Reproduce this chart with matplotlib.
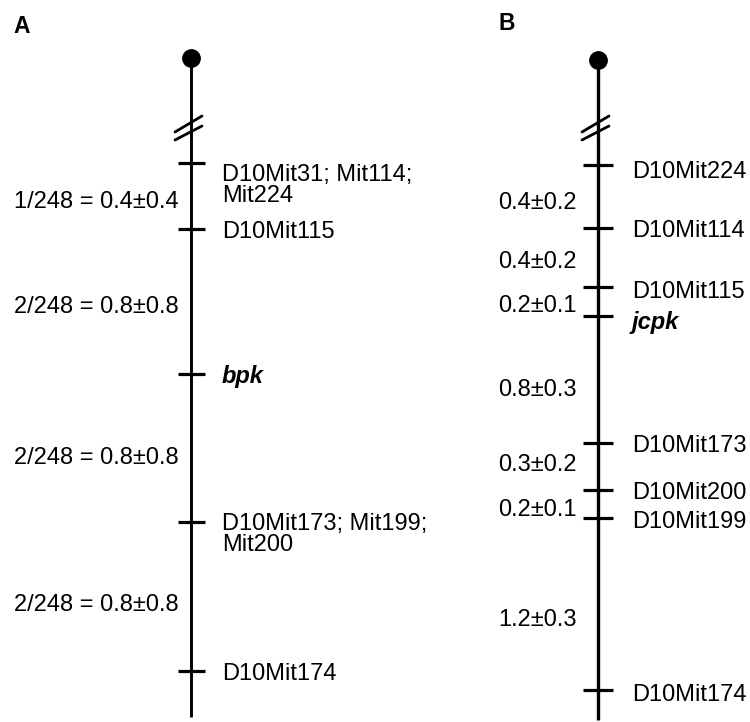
import matplotlib
matplotlib.use("Agg")
import matplotlib.pyplot as plt

plt.rcParams['font.family'] = ['Liberation Sans', 'DejaVu Sans']

# ---------------- data ----------------
# Panel A: markers (top to bottom), map position (cM below first marker, as drawn)
markers_A = ["D10Mit31; Mit114;\nMit224", "D10Mit115", "bpk",
             "D10Mit173; Mit199;\nMit200", "D10Mit174"]
pos_A = [0.0, 0.36, 1.16, 1.97, 2.79]
intervals_A = ["1/248 = 0.4\u00b10.4", "2/248 = 0.8\u00b10.8",
               "2/248 = 0.8\u00b10.8", "2/248 = 0.8\u00b10.8"]

# Panel B
markers_B = ["D10Mit224", "D10Mit114", "D10Mit115", "jcpk",
             "D10Mit173", "D10Mit200", "D10Mit199", "D10Mit174"]
pos_B = [0.0, 0.42, 0.81, 1.00, 1.84, 2.15, 2.34, 3.48]
intervals_B = ["0.4\u00b10.2", "0.4\u00b10.2", "0.2\u00b10.1", "0.8\u00b10.3",
               "0.3\u00b10.2", "0.2\u00b10.1", "1.2\u00b10.3"]

loci = ["bpk", "jcpk"]          # mutant loci, drawn bold italic
panel_letters = ["A", "B"]

# ---------------- layout (pixels) ----------------
W, H = 750, 722
layout = [
    dict(line_x=191, first_px=163, scale=182, dot_y=58, end_y=717, th=13.5,
         label_x=222, int_x=179, mk_nudge=[9, 1, 0, 0, 1], int_nudge=[4, 3, 8, 6],
         letter=(13, 33), lw=2.1),
    dict(line_x=598, first_px=165, scale=151, dot_y=60, end_y=720, th=15,
         label_x=632, int_x=577, mk_nudge=[5, 0, 2, 4, 1, 1, 1, 2],
         int_nudge=[3.5, 2, 2, 8, -3.5, 3.5, 13], letter=(498, 30), lw=2.4),
]
FS = 17
CAP_HALF = 8.5
LINE_SP = 21

fig = plt.figure(figsize=(W / 100, H / 100), dpi=100)
fig.patch.set_facecolor("white")

panels = [(markers_A, pos_A, intervals_A), (markers_B, pos_B, intervals_B)]

for (markers, pos, intervals), L, letter in zip(panels, layout, panel_letters):
    ax = fig.add_axes([0, 0, 1, 1])
    ax.patch.set_alpha(0)
    ax.axis("off")
    s = L["scale"]
    f0 = L["first_px"]

    def cm(px):
        return (px - f0) / s

    ax.set_xlim(0, W)
    ax.set_ylim(cm(H), cm(0))
    x0 = L["line_x"]

    # chromosome line and centromere
    ax.plot([x0, x0], [cm(L["dot_y"]), cm(L["end_y"])], color="black",
            lw=L["lw"], solid_capstyle="butt", zorder=2)
    ax.plot([x0], [cm(L["dot_y"])], "o", color="black", ms=12.5, zorder=3)

    # break mark //
    for yl, yr in [(132, 116), (140, 126)]:
        ax.plot([x0 - 16, x0 + 11], [cm(yl), cm(yr)], color="black",
                lw=2.0, solid_capstyle="round", zorder=3)

    # marker ticks
    ax.hlines(pos, x0 - L["th"], x0 + L["th"], color="black", lw=2.3, zorder=3)

    # marker labels
    for name, p, nd in zip(markers, pos, L["mk_nudge"]):
        is_locus = name in loci
        for i, line in enumerate(name.split("\n")):
            yb = p + (nd + CAP_HALF + i * LINE_SP) / s
            ax.text(L["label_x"], yb, line, fontsize=FS, ha="left", va="baseline",
                    fontweight="bold" if is_locus else "normal",
                    fontstyle="italic" if is_locus else "normal", color="black")

    # interval labels
    for lab, pa, pb, nd in zip(intervals, pos[:-1], pos[1:], L["int_nudge"]):
        yb = (pa + pb) / 2 + (nd + CAP_HALF) / s
        ax.text(L["int_x"], yb, lab, fontsize=FS, ha="right", va="baseline",
                color="black")

    # panel letter
    lx, ly = L["letter"]
    fig.text(lx / W, 1 - ly / H, letter, fontsize=16.5, fontweight="bold",
             ha="left", va="baseline")

fig.savefig("out.png", dpi=100, facecolor="white")
